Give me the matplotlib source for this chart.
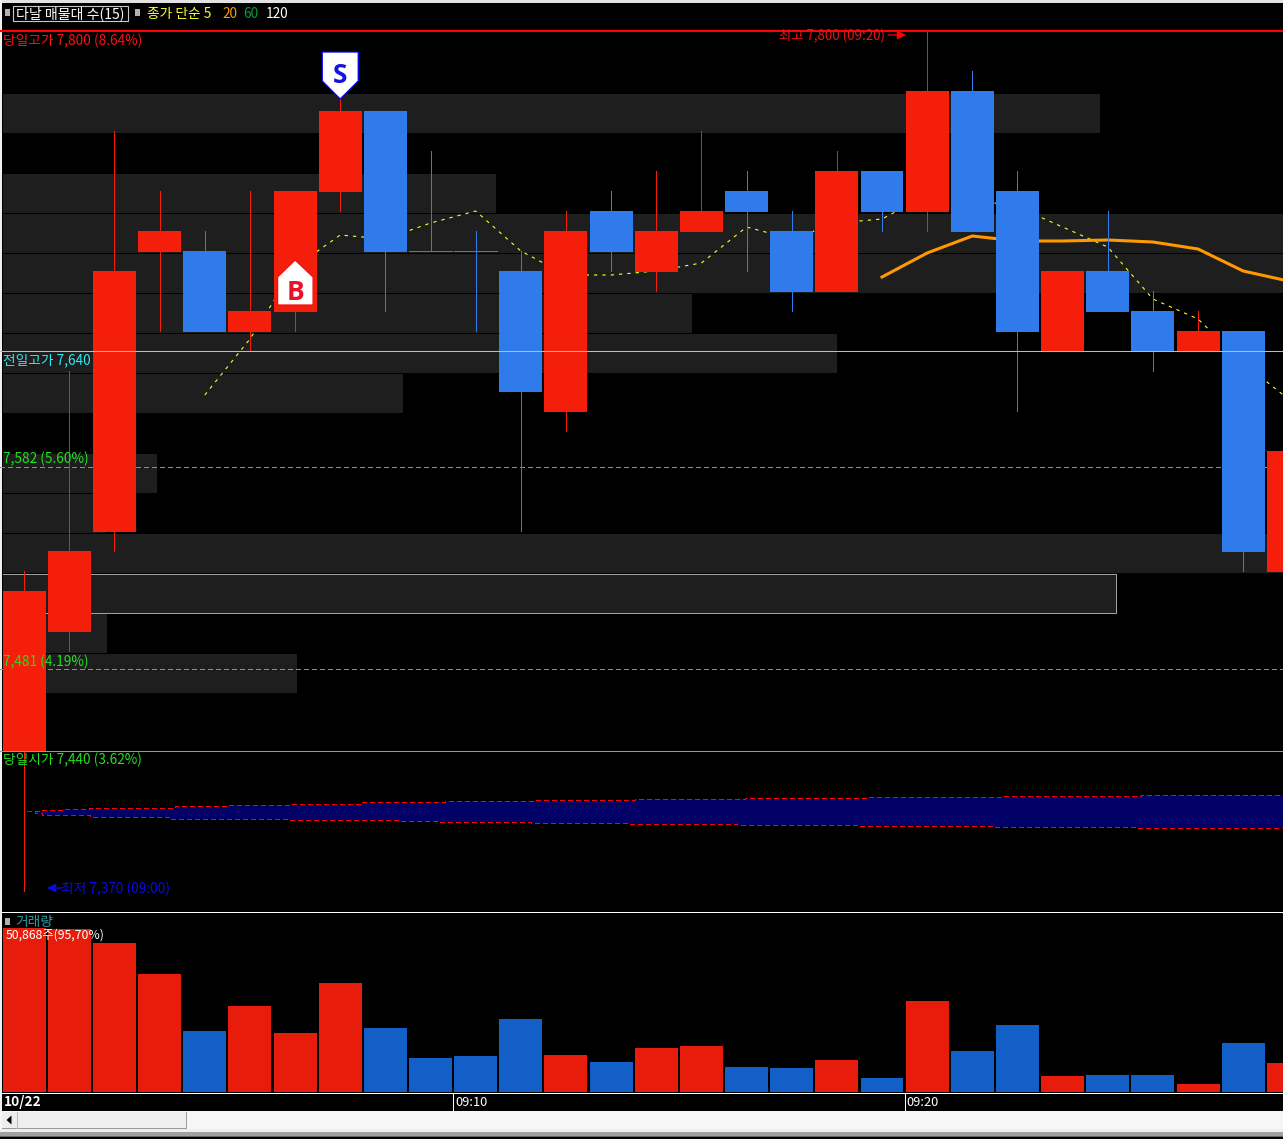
import numpy as np
import matplotlib
matplotlib.use("Agg")
import matplotlib.pyplot as plt
from matplotlib.patches import Polygon, Rectangle
from matplotlib.transforms import Affine2D

plt.rcParams['font.family'] = ['Noto Sans CJK KR', 'DejaVu Sans']

# ---------- data ----------
opens  = [7440,7500,7550,7690,7690,7650,7660,7720,7760,7690,7690,7680,7610,7710,7680,7700,7720,7700,7670,7730,7710,7770,7720,7640,7680,7660,7640,7650,7530]
highs  = [7530,7630,7750,7720,7700,7720,7720,7770,7760,7740,7700,7690,7710,7720,7730,7750,7730,7710,7740,7730,7800,7780,7730,7680,7710,7670,7660,7650,7590]
lows   = [7370,7490,7540,7650,7650,7640,7650,7710,7660,7690,7650,7550,7600,7680,7670,7700,7680,7660,7670,7700,7700,7700,7610,7640,7660,7630,7640,7530,7530]
closes = [7520,7540,7680,7700,7650,7660,7720,7760,7690,7690,7690,7620,7700,7690,7700,7710,7710,7670,7730,7710,7770,7700,7650,7680,7660,7640,7650,7540,7590]
volumes = [50868,50500,46200,36600,18900,26700,18300,33800,19800,10500,11200,22600,11500,9300,13600,14300,7800,7400,9900,4300,28200,12700,20800,5000,5300,5300,2500,15200,9000]

ma5_idx = list(range(4, 29))
ma5 = [7618,7646,7682,7698,7696,7704,7710,7690,7678,7678,7680,7684,7702,7696,7704,7706,7718,7716,7712,7702,7692,7666,7656,7634,7616]
ma20_idx = list(range(19, 29))
ma20 = [7677,7689,7697.5,7695,7695,7695.5,7694.5,7691,7680,7675]

zone_price = [7758.75,7738.75,7718.75,7698.75,7678.75,7658.75,7638.75,7618.75,7598.75,7578.75,7558.75,7538.75,7518.75,7498.75,7478.75]
zone_volume = [1097,0,493,1400,1400,689,834,400,0,154,102,1400,1113,104,294]
zone_current = 12

band_up_x = [0.06,0.39,0.83,1.43,2.34,3.33,4.51,5.88,7.48,9.31,11.31,13.52,15.96,18.68,21.67,24.73,29]
band_up_p = [7410,7410.5,7411,7411.5,7411.75,7412.65,7413,7413.65,7414.3,7414.8,7415.3,7415.85,7416.35,7416.85,7417.35,7417.85,7417.85]
band_lo_x = [0.06,0.23,0.39,1.45,2.34,3.22,4.44,5.81,8.32,9.22,11.22,13.39,15.78,18.51,21.43,24.64,29]
band_lo_p = [7410,7409,7408.25,7407.15,7406.85,7406.15,7405.85,7405.4,7404.85,7404.35,7403.85,7403.35,7402.85,7402.35,7401.85,7401.35,7401.35]

ref_high = 7800
ref_prev = 7640
ref_a = 7582
ref_b = 7481
ref_open = 7440

time_ticks = [9.5, 19.5]
time_labels = ['09:10', '09:20']

# ---------- colours ----------
RED, BLUE = '#F51E0A', '#2F7BEC'
VRED, VBLUE = '#E81C0A', '#125FC8'
ZONE = '#1E1E1E'
GREEN = '#22E022'
FS = 9.85

W, H = 1283, 1139
fig = plt.figure(figsize=(W/100, H/100), dpi=100, facecolor='black')

def px_axes(x0, y0, x1, y1, z):
    a = fig.add_axes([x0/W, 1-y1/H, (x1-x0)/W, (y1-y0)/H], zorder=z)
    a.set_axis_off()
    return a

# background chrome
bg = px_axes(0, 0, W, H, 0)
bg.set_xlim(0, W); bg.set_ylim(H, 0)
def rect(a, x, y, w, h, c, **k):
    a.add_patch(Rectangle((x, y), w, h, fc=c, ec='none', antialiased=False, **k))
rect(bg, 0, 0, W, H, 'black')
rect(bg, 0, 0, W, 3, '#E2E2E2')
rect(bg, 0, 0, 2, 1111, '#F0F0F0')
rect(bg, 0, 1111, W, 18, '#F6F6F6')
rect(bg, 0, 1129, W, 3, '#EEEEEE')
rect(bg, 0, 1132, W, 3.5, '#A0A0A0')
rect(bg, 0, 1135.5, W, 1, '#666666')
rect(bg, 2, 1112, 15, 16, '#EDEDED')
rect(bg, 18, 1112, 168, 16, '#EFEFEF')
rect(bg, 2, 1127.5, 184, 1.5, '#9A9A9A')
rect(bg, 185.5, 1112, 1.5, 17, '#9A9A9A')
rect(bg, 16.5, 1112, 1.5, 17, '#BBBBBB')
bg.add_patch(Polygon([[11.5, 1115.5], [6.5, 1120], [11.5, 1124.5]], fc='black', ec='none'))

# price scale: 2 px per won
y_top, y_bot = 4, 911
xlim = (-0.536, 27.882)
ylim = (7360, 7800 + (31 - y_top)/2)

ax_zone = px_axes(0, y_top, W, y_bot, 1)
ax_zone.set_xlim(-3, 1280); ax_zone.set_ylim(*ylim)
for i, (p, v) in enumerate(zip(zone_price, zone_volume)):
    if v == 0:
        continue
    ax_zone.barh(p, v, height=19.6, left=0, color=ZONE, lw=0, antialiased=False)
    if i == zone_current:
        ax_zone.hlines([p-9.8, p+9.8], 0, v, color='#A0A0A0', lw=0.6, antialiased=False)
        ax_zone.vlines(v, p-9.8, p+9.8, color='#A0A0A0', lw=0.6, antialiased=False)

ax = px_axes(0, y_top, W, y_bot, 2)
ax.set_xlim(*xlim); ax.set_ylim(*ylim)
x = np.arange(len(closes))

# reference lines below candles
ax.axhline(ref_a, color='#00F000', lw=0.75, dashes=(4, 3), zorder=1, antialiased=False)
ax.axhline(ref_b, color='#00F000', lw=0.75, dashes=(4, 3), zorder=1, antialiased=False)

# moving averages
ax.plot(ma5_idx, ma5, color='#FFFF20', lw=0.8, dashes=(3, 4.5), zorder=2)
ax.plot(ma20_idx, ma20, color='#FF9900', lw=2.2, zorder=2.5, solid_joinstyle='round')

# band
grid = np.union1d(band_up_x, band_lo_x)
uu = np.array(band_up_p)[np.searchsorted(band_up_x, grid, side='right') - 1]
ll = np.array(band_lo_p)[np.searchsorted(band_lo_x, grid, side='right') - 1]
ax.fill_between(grid, ll, uu, step='post', color='#000066', lw=0, zorder=1.5)
ax.step(band_up_x, band_up_p, where='post', color='#FF0000', lw=0.75, dashes=(4, 3), zorder=1.7, antialiased=False)
ax.step(band_lo_x, band_lo_p, where='post', color='#FF0000', lw=0.75, dashes=(4, 3), zorder=1.7, antialiased=False)

# candles
body_pad = 0.5
for i, (o, h, l, c) in enumerate(zip(opens, highs, lows, closes)):
    col = RED if c > o else BLUE
    ax.vlines(i, l, h, color=col, lw=0.6, zorder=3, antialiased=False)
    if c == o:
        ax.hlines(c, i-0.476, i+0.476, color=col, lw=0.6, zorder=3.1, antialiased=False)
    else:
        ax.bar(i, abs(c-o)+body_pad, bottom=min(c, o)-body_pad, width=0.952, color=col, lw=0, zorder=3.1, antialiased=False)

# reference lines above candles
ax.axhline(ref_high, color='#FF0000', lw=1.5, zorder=4)
ax.axhline(ref_prev, color='#55E6F2', lw=0.75, zorder=4)
ax.axhline(ref_open, color='#30E030', lw=0.75, zorder=4)

# signal markers anchored on candles
fig.canvas.draw()
def marker(idx, price, pts, fc, ec, letter, tc, dy):
    ox, oy = ax.transData.transform((idx, price))
    tr = Affine2D().translate(ox, oy)
    ax.add_patch(Polygon(pts, closed=True, fc=fc, ec=ec, lw=0.9, transform=tr, zorder=5, clip_on=False))
    ax.text(0, dy, letter, color=tc, fontsize=19, fontweight='bold', family='Open Sans',
            ha='center', va='center', transform=tr, zorder=6)
marker(7, 7766, [(-18, 18), (-18, 47), (18, 47), (18, 18), (0, 0)], 'white', '#0000FF', 'S', '#1414DC', 24)
marker(6, 7685.5, [(0, 0), (-17.5, -17), (-17.5, -45), (18, -45), (18, -17)], 'white', '#F01010', 'B', '#E8102A', -32)

# volume
ax_vol = px_axes(0, 913, W, 1092, 2)
ax_vol.set_xlim(*xlim); ax_vol.set_ylim(0, 55490)
vcols = [VRED if c > o else VBLUE for o, c in zip(opens, closes)]
ax_vol.bar(x, volumes, width=0.952, color=vcols, lw=0, antialiased=False)

# overlay: separators, ticks, text
ov = px_axes(0, 0, W, H, 3)
ov.set_xlim(0, W); ov.set_ylim(H, 0)
rect(ov, 2, 912, W, 1, 'white')
rect(ov, 2, 1093, W, 1, 'white')
for t, lab in zip(time_ticks, time_labels):
    px = 24.2 + t*45.148
    rect(ov, px, 1093, 1, 18, 'white')
    ov.text(px+2, 1102, lab, color='white', fontsize=FS-0.6, va='center', ha='left')
ov.text(4, 1102, '10/22', color='white', fontsize=FS, fontweight='bold', va='center', ha='left')

def txt(px, py, s, c, size=FS, **k):
    ov.text(px, py+1, s, color=c, fontsize=size, va='center', ha='left', **k)

for sx, sy in [(5, 9), (135, 9), (5, 918)]:
    rect(ov, sx, sy, 5, 7, '#B0B0B0')
ov.add_patch(Rectangle((12.5, 5.5), 115, 15.5, fc='none', ec='#C8C8C8', lw=0.8))
txt(16, 13, '다날 매물대 수(15)', 'white', 10.1)
txt(147, 13, '종가 단순 5', '#FFFF30')
txt(222, 13, '20', '#FF9900')
txt(243, 13, '60', '#0C9A3C')
txt(266, 13, '120', 'white')
txt(3, 40, '당일고가 7,800 (8.64%)', '#FF1010')
txt(3, 359, '전일고가 7,640', '#30E8F0')
txt(3, 458, '7,582 (5.60%)', GREEN)
txt(3, 661, '7,481 (4.19%)', GREEN)
txt(3, 759, '당일시가 7,440 (3.62%)', GREEN)
txt(779, 35, '최고 7,800 (09:20)', '#F01010', 9.6)
ov.annotate('', xy=(906, 35), xytext=(888, 35),
            arrowprops=dict(arrowstyle='-|>', color='#FF0000', lw=0.9, mutation_scale=13, shrinkA=0, shrinkB=0))
txt(61, 888, '최저 7,370 (09:00)', '#0A0AE6')
ov.annotate('', xy=(47, 888), xytext=(62, 888),
            arrowprops=dict(arrowstyle='-|>', color='#0A0AE6', lw=0.9, mutation_scale=13, shrinkA=0, shrinkB=0))
txt(15, 921, '거래량', '#2E9AA0')
txt(6, 934, '50,868주(95,70%)', 'white', 8.8)

fig.savefig('out.png', dpi=100, facecolor='black')
